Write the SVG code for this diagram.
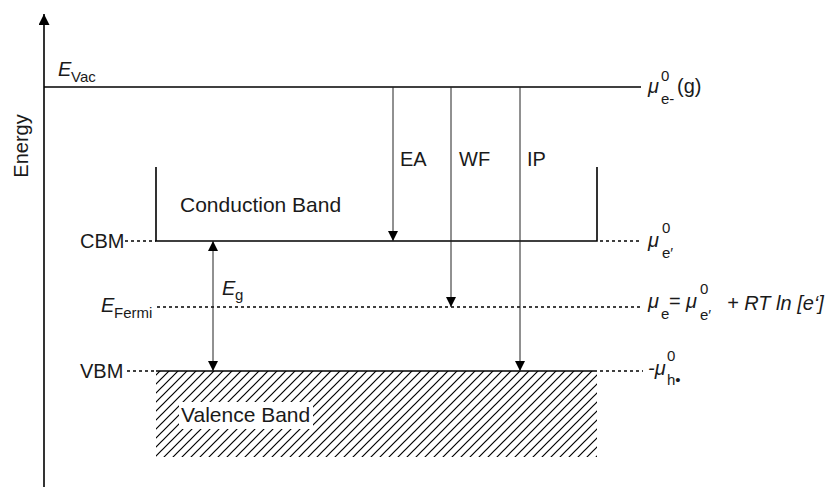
<svg xmlns="http://www.w3.org/2000/svg" width="830" height="488" viewBox="0 0 830 488">
<style>
text{font-family:"Liberation Sans",Arial,sans-serif;fill:#1a1a1a}
.t{font-size:20px}
.b{font-size:21px}
.s{font-size:15px}
.i{font-style:italic}
.solid{stroke:#000;stroke-width:1.6;fill:none}
.thin{stroke:#222;stroke-width:1;fill:none}
.dot{stroke:#000;stroke-width:1.5;stroke-dasharray:3 3;fill:none}
</style>
<defs>
<marker id="ah" markerUnits="userSpaceOnUse" markerWidth="10" markerHeight="10" refX="10" refY="5" orient="auto-start-reverse" viewBox="0 0 10 10"><path d="M0,0 L10,5 L0,10 z" fill="#000"/></marker>
<marker id="ax" markerUnits="userSpaceOnUse" markerWidth="11" markerHeight="11" refX="11" refY="5.5" orient="auto" viewBox="0 0 11 11"><path d="M0,0 L11,5.5 L0,11 z" fill="#000"/></marker>
<pattern id="hatch" patternUnits="userSpaceOnUse" width="9" height="9">
<path d="M-1,10 L10,-1 M-1,1 L1,-1 M8,10 L10,8" stroke="#000" stroke-width="1.2"/>
</pattern>
</defs>

<g id="axis">
<line class="solid" x1="44" y1="487" x2="44" y2="14" marker-end="url(#ax)"/>
<text class="t" transform="translate(28,146) rotate(-90)" text-anchor="middle">Energy</text>
</g>

<g id="vacuum">
<line class="solid" x1="44" y1="87" x2="641" y2="87"/>
<text class="t i" x="58" y="76">E</text><text class="s" x="71" y="82">Vac</text>
<text class="t i" x="648" y="93">μ</text><text class="s" x="661" y="81">0</text><text class="s" x="661" y="104">e-</text><text class="t" x="677" y="93">(g)</text>
</g>

<g id="conduction-band">
<path class="solid" d="M156,167 V241 H597 V167"/>
<text class="b" x="180" y="212">Conduction Band</text>
<line class="dot" x1="125" y1="241" x2="156" y2="241"/>
<line class="dot" x1="600" y1="241" x2="640" y2="241"/>
<text class="t" x="80" y="248">CBM</text>
<text class="t i" x="648" y="247">μ</text><text class="s" x="662" y="233">0</text><text class="s" x="662" y="258">e′</text>
</g>

<g id="fermi">
<line class="dot" x1="157" y1="307" x2="640" y2="307"/>
<text class="t i" x="101" y="312">E</text><text class="s" x="114" y="318">Fermi</text>
<text class="t i" x="648" y="308">μ</text><text class="s" x="661" y="319">e</text><text class="t" x="669" y="308">=</text>
<text class="t i" x="686" y="308">μ</text><text class="s" x="700" y="294">0</text><text class="s" x="700" y="320">e′</text>
<text class="t i" x="727" y="310">+ RT ln [e‘]</text>
</g>

<g id="valence-band">
<rect x="156" y="371" width="441" height="86" fill="url(#hatch)"/>
<rect x="179" y="402" width="134" height="27" fill="#fff"/>
<line class="solid" x1="156" y1="371" x2="597" y2="371"/>
<text class="b" x="181" y="422">Valence Band</text>
<line class="dot" x1="127" y1="371" x2="156" y2="371"/>
<line class="dot" x1="600" y1="371" x2="643" y2="371"/>
<text class="t" x="80" y="378">VBM</text>
<text class="t i" x="648" y="375">-μ</text><text class="s" x="667" y="361">0</text><text class="s" x="667" y="385">h•</text>
</g>

<g id="connectors">
<line class="thin" x1="393" y1="87" x2="393" y2="241" marker-end="url(#ah)"/>
<line class="thin" x1="451" y1="87" x2="451" y2="307" marker-end="url(#ah)"/>
<line class="thin" x1="520" y1="87" x2="520" y2="371" marker-end="url(#ah)"/>
<line class="thin" x1="213" y1="241" x2="213" y2="371" marker-start="url(#ah)" marker-end="url(#ah)"/>
<text class="t" x="400" y="166">EA</text>
<text class="t" x="459" y="166">WF</text>
<text class="t" x="527" y="166">IP</text>
<text class="t i" x="222" y="295">E</text><text class="s" x="235" y="300">g</text>
</g>
</svg>
